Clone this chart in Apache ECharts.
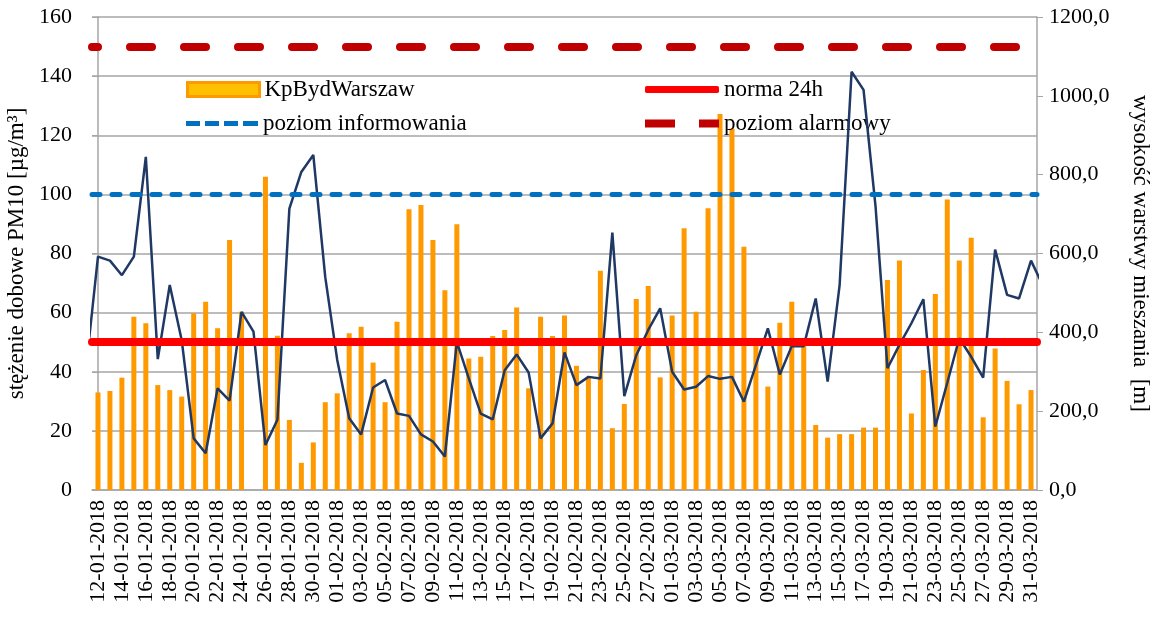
<!DOCTYPE html>
<html>
<head>
<meta charset="utf-8">
<script src="https://cdn.jsdelivr.net/npm/echarts@6/dist/echarts.min.js"></script>
<style>
  html, body { margin: 0; padding: 0; background: #fff; }
  #chart { width: 1160px; height: 618px; }
</style>
</head>
<body>
<div id="chart"></div>
<script>
// dni 12-01-2018 .. 31-03-2018
const months = [['01', 12, 31], ['02', 1, 28], ['03', 1, 31]];
const dates = [];
months.forEach(function (m) {
  for (let d = m[1]; d <= m[2]; d++) {
    dates.push((d < 10 ? '0' + d : '' + d) + '-' + m[0] + '-2018');
  }
});

// stężenie dobowe PM10 [µg/m3], KpBydWarszaw (25-01 brak danych)
const pm10Jan = [33, 33.5, 38, 58.6, 56.4, 35.5, 33.8, 31.6, 59.8, 63.7,
  54.7, 84.6, 60.3, null, 106, 52.2, 23.7, 9.2, 16.1, 29.7];
const pm10Feb = [32.7, 53, 55.2, 43.1, 29.7, 56.9, 95, 96.4, 84.6, 67.6,
  89.9, 44.5, 45.1, 52.1, 54.1, 61.7, 34.4, 58.6, 52.1, 59,
  42, 38.2, 74.2, 20.9, 29.1, 64.6, 69, 38.1];
const pm10Mar = [59, 88.5, 60.3, 95.3, 127.2, 122.3, 82.3, 49, 35, 56.6,
  63.7, 49, 22, 17.7, 18.9, 18.9, 21.1, 21.1, 71, 77.6,
  25.9, 40.6, 66.3, 98.3, 77.6, 85.3, 24.6, 47.9, 36.9, 29, 33.8];
const pm10 = pm10Jan.concat(pm10Feb, pm10Mar);

// wysokość warstwy mieszania [m]
const mixJan = [592, 582, 545, 592, 845, 332, 520, 380, 131, 93,
  258, 227, 452, 402, 114, 178, 714, 807, 850, 540];
const mixFeb = [330, 182, 141, 260, 279, 194, 188, 141, 123, 85,
  376, 283, 194, 179, 304, 344, 298, 131, 169, 349,
  266, 287, 283, 653, 238, 342, 406, 461];
const mixMar = [300, 255, 262, 289, 282, 287, 224, 317, 410, 293,
  365, 365, 486, 275, 520, 1061, 1015, 720, 309, 368,
  423, 484, 161, 272, 385, 338, 285, 610, 495, 486, 582];
const mixBefore = 310;  // 11-01, widoczny tylko przy krawędzi
const mixAfter = 518;   // 01-04
const mixing = mixJan.concat(mixFeb, mixMar);

// progi
const NORMA_24H = 50;
const POZIOM_INFO = 100;
const POZIOM_ALARM = 150;

const font = "'Liberation Serif', 'Times New Roman', serif";

const mixData = [[-1, mixBefore]];
mixing.forEach(function (v, i) { mixData.push([i, v]); });
mixData.push([mixing.length, mixAfter]);

const chart = echarts.init(document.getElementById('chart'));

function levelSeries(name, value, style) {
  return {
    name: name,
    type: 'line',
    xAxisIndex: 0,
    yAxisIndex: 0,
    data: [],
    symbol: 'none',
    z: 3,
    itemStyle: { color: style.color },
    lineStyle: style,
    markLine: {
      silent: true,
      symbol: 'none',
      label: { show: false },
      lineStyle: style,
      data: [{ yAxis: value }]
    }
  };
}

// osobna legenda dla każdej pozycji (własna ikona i wysokość)
function legendItem(name, left, centerY, w, h, icon, style) {
  return {
    left: left, top: centerY - 11, padding: 0,
    itemWidth: w, itemHeight: h, itemGap: 0,
    data: [{ name: name, icon: icon, itemStyle: style }],
    textStyle: { fontFamily: font, fontSize: 23, color: '#000', lineHeight: 22 }
  };
}

const option = {
  animation: false,
  grid: { left: 92, right: 123, top: 17, bottom: 128, outerBoundsMode: 'none' },
  legend: [
    legendItem('KpBydWarszaw', 186, 89, 72, 14, 'rect',
      { color: '#FFC000', borderColor: '#FF9900', borderWidth: 3 }),
    legendItem('poziom informowania', 186, 123, 72, 5,
      'path://M0 0H14V5H0Z M19 0H33V5H19Z M38 0H52V5H38Z M57 0H72V5H57Z',
      { color: '#0070C0', borderWidth: 0 }),
    legendItem('norma 24h', 645, 89, 74, 7, 'roundRect',
      { color: '#FF0000', borderWidth: 0 }),
    legendItem('poziom alarmowy', 645, 123, 74, 8,
      'path://M0 0H30V8H0Z M54 0H74V8H54Z',
      { color: '#C00000', borderWidth: 0 })
  ],
  xAxis: [
    {
      type: 'category',
      data: dates,
      axisLine: { lineStyle: { color: '#a6a6a6', width: 1.5 } },
      axisTick: { interval: 1, length: 6, lineStyle: { color: '#a6a6a6' } },
      axisLabel: { interval: 1, rotate: 90, margin: 10, fontFamily: font, fontSize: 22, color: '#000' }
    },
    { type: 'value', min: -0.5, max: dates.length - 0.5, show: false }
  ],
  yAxis: [
    {
      type: 'value', min: 0, max: 160, interval: 20,
      name: 'stężenie dobowe PM10 [µg/m³]',
      nameLocation: 'middle', nameRotate: 90, nameGap: 60,
      nameTextStyle: { fontFamily: font, fontSize: 23, color: '#000' },
      axisLine: { show: true, lineStyle: { color: '#a6a6a6', width: 1.5 } },
      axisTick: { show: true, length: 6, lineStyle: { color: '#a6a6a6' } },
      axisLabel: { margin: 20, fontFamily: font, fontSize: 22, color: '#000' },
      splitLine: { lineStyle: { color: '#a6a6a6', width: 1.5 } }
    },
    {
      type: 'value', min: 0, max: 1200, interval: 200, position: 'right',
      name: 'wysokość warstwy mieszania  [m]',
      nameLocation: 'middle', nameRotate: -90, nameGap: 92,
      nameTextStyle: { fontFamily: font, fontSize: 23, color: '#000' },
      axisLine: { show: true, lineStyle: { color: '#a6a6a6', width: 1.5 } },
      axisTick: { show: true, length: 6, lineStyle: { color: '#a6a6a6' } },
      axisLabel: {
        margin: 12, fontFamily: font, fontSize: 22, color: '#000',
        formatter: function (v) { return v.toFixed(1).replace('.', ','); }
      },
      splitLine: { show: false }
    }
  ],
  series: [
    {
      name: 'KpBydWarszaw',
      type: 'bar',
      data: pm10,
      barWidth: 5,
      z: 2,
      itemStyle: { color: '#FFB000', borderColor: '#FF9900', borderWidth: 3 }
    },
    levelSeries('poziom informowania', POZIOM_INFO,
      { color: '#0070C0', width: 5, type: [8, 12], cap: 'round' }),
    levelSeries('norma 24h', NORMA_24H,
      { color: '#FF0000', width: 8, type: 'solid', cap: 'round' }),
    levelSeries('poziom alarmowy', POZIOM_ALARM,
      { color: '#C00000', width: 8, type: [22, 32], dashOffset: 16, cap: 'round' }),
    {
      name: 'wysokość warstwy mieszania',
      type: 'line',
      xAxisIndex: 1,
      yAxisIndex: 1,
      data: mixData,
      symbol: 'none',
      z: 4,
      lineStyle: { color: '#1F3864', width: 2.5 }
    }
  ]
};

chart.setOption(option);
</script>
</body>
</html>
